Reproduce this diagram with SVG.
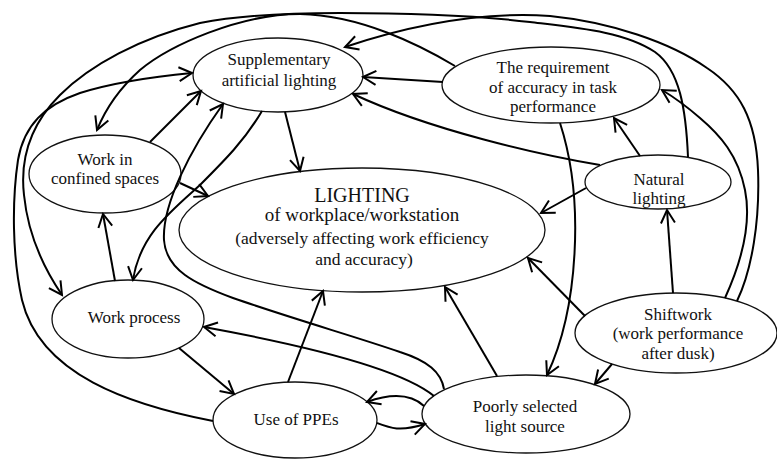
<svg xmlns="http://www.w3.org/2000/svg" width="777" height="459" viewBox="0 0 777 459">
<style>
.n{fill:#fff;stroke:#111;stroke-width:1.3}
.t{font-family:"Liberation Serif","Times New Roman",serif;font-size:17px;fill:#111;text-anchor:middle}
.c path{fill:none;stroke:#000;stroke-width:2;marker-end:url(#ah)}
</style>
<defs>
<marker id="ah" markerUnits="userSpaceOnUse" markerWidth="18" markerHeight="18" viewBox="-15 -9 18 18" refX="0" refY="0" orient="auto" overflow="visible">
<path d="M-13,-7 L0,0 L-13,7" fill="none" stroke="#000" stroke-width="2"/>
</marker>
</defs>
<rect width="777" height="459" fill="#fff"/>
<g id="nodes">
<g id="sup"><ellipse class="n" cx="278" cy="75" rx="85" ry="37"/><text class="t" x="279" y="65">Supplementary</text><text class="t" x="279" y="86">artificial lighting</text></g>
<g id="req"><ellipse class="n" cx="551" cy="85" rx="109" ry="38"/><text class="t" x="553" y="73">The requirement</text><text class="t" x="553" y="93">of accuracy in task</text><text class="t" x="553" y="112">performance</text></g>
<g id="conf"><ellipse class="n" cx="105" cy="174" rx="76" ry="39"/><text class="t" x="105" y="165">Work in</text><text class="t" x="105" y="184">confined spaces</text></g>
<g id="light"><ellipse class="n" cx="362" cy="230" rx="183" ry="62"/><text class="t" x="362" y="202" style="font-size:20px">LIGHTING</text><text class="t" x="362" y="221" style="font-size:19px">of workplace/workstation</text><text class="t" x="362" y="244" style="font-size:17.5px">(adversely affecting work efficiency</text><text class="t" x="364" y="265" style="font-size:17.5px">and accuracy)</text></g>
<g id="nat"><ellipse class="n" cx="658" cy="182" rx="73" ry="27"/><text class="t" x="659" y="185">Natural</text><text class="t" x="659" y="204">lighting</text></g>
<g id="wp"><ellipse class="n" cx="128" cy="319" rx="76" ry="39"/><text class="t" x="134" y="323">Work process</text></g>
<g id="ppe"><ellipse class="n" cx="295" cy="420" rx="82" ry="38"/><text class="t" x="296" y="425">Use of PPEs</text></g>
<g id="poor"><ellipse class="n" cx="526" cy="414" rx="104" ry="39"/><text class="t" x="525" y="412">Poorly selected</text><text class="t" x="525" y="432">light source</text></g>
<g id="shift"><ellipse class="n" cx="676" cy="333" rx="101" ry="40"/><text class="t" x="678" y="320">Shiftwork</text><text class="t" x="678" y="339">(work performance</text><text class="t" x="678" y="359">after dusk)</text></g>
</g>
<g id="connectors" class="c">
<path d="M213,421 C130,405 40,375 22,300 C12,255 12,200 18,160 C24,125 45,105 80,93 C115,82 150,77 192,73"/>
<path d="M688,157 C686,110 680,70 655,52 C625,32 580,28 530,22 C480,16 420,13 340,13 C290,13 240,15 200,23 C140,38 90,65 60,95 C30,125 20,160 24,195 C28,235 45,270 62,295"/>
<path d="M455,66 C420,45 360,15 300,14 C240,14 170,45 140,70 C120,88 105,110 97,130"/>
<path d="M737,301 C752,270 760,220 758,170 C756,120 740,90 707,68 C670,42 610,22 550,16 C490,12 420,22 345,47"/>
<path d="M725,298 C740,265 752,225 745,190 C738,155 720,135 700,118 C685,105 672,96 662,90"/>
<path d="M640,156 L614,118"/>
<path d="M586,188 L541,213"/>
<path d="M600,165 C540,155 430,130 353,94"/>
<path d="M443,82 L363,77"/>
<path d="M560,123 C585,200 578,310 547,375"/>
<path d="M673,293 L667,210"/>
<path d="M585,316 L528,258"/>
<path d="M612,364 L595,384"/>
<path d="M497,376 L445,287"/>
<path d="M434,396 C405,372 330,350 204,327"/>
<path d="M444,389 C441,372 428,361 400,352 C360,338 290,318 233,298 C195,284 166,270 164,240 C162,205 190,150 223,104"/>
<path d="M424,406 C412,395 395,392 367,402"/>
<path d="M377,423 C390,428 400,432 425,424"/>
<path d="M288,382 L323,291"/>
<path d="M179,348 L234,394"/>
<path d="M115,281 L103,214"/>
<path d="M262,111 C245,140 225,160 200,185 C170,212 140,235 133,280"/>
<path d="M285,112 L300,171"/>
<path d="M150,142 L201,91"/>
<path d="M180,183 L208,196"/>
</g>
</svg>
